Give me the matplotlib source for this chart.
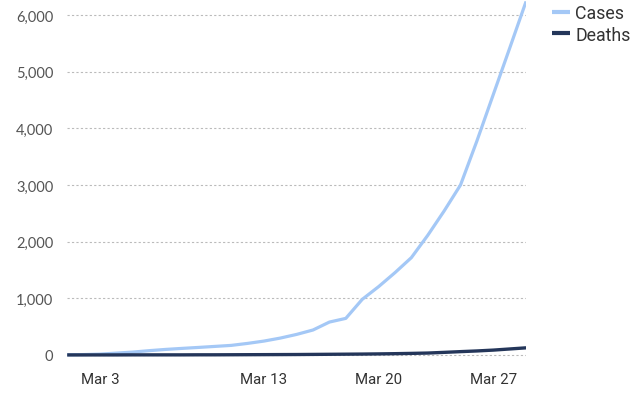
import matplotlib
matplotlib.use("Agg")
import matplotlib.pyplot as plt
import matplotlib.dates as mdates
import pandas as pd

dates = pd.date_range("2020-03-01", "2020-03-29", freq="D")
cases = [2, 6, 14, 32, 50, 75, 97, 115, 132, 150, 168, 203, 244, 297, 362, 440,
         580, 645, 980, 1205, 1452, 1717, 2111, 2541, 3000, 3777, 4597, 5415, 6240]
deaths = [0, 0, 0, 0, 1, 1, 1, 1, 2, 2, 3, 4, 5, 6, 7, 9,
          11, 13, 15, 18, 22, 27, 33, 45, 58, 70, 85, 105, 125]
tick_dates = ["2020-03-03", "2020-03-13", "2020-03-20", "2020-03-27"]
yticks = [0, 1000, 2000, 3000, 4000, 5000, 6000]

fig = plt.figure(figsize=(6.4, 4.1), dpi=100)
ax = fig.add_axes([0.105, 0.1250, 0.717, 0.8705])

ax.plot(dates, cases, color="#a4c8f6", lw=2.3, label="Cases", solid_capstyle="butt", zorder=3)
ax.plot(dates, deaths, color="#24365a", lw=2.4, label="Deaths", solid_capstyle="butt", zorder=4)

ax.set_xlim(dates[0], dates[-1])
ax.set_ylim(-50, 6250)
ax.set_yticks(yticks)
ax.set_yticklabels([f"{v:,}" for v in yticks], family="Lato", fontsize=10.5, color="#555555")
ax.set_xticks(pd.to_datetime(tick_dates))
ax.xaxis.set_major_formatter(mdates.DateFormatter("%b %-d"))
for lbl in ax.get_xticklabels():
    lbl.set_family("Roboto")
    lbl.set_fontsize(10.8)
    lbl.set_color("#333333")
ax.tick_params(axis="y", length=0, pad=10)
ax.tick_params(axis="x", length=0, pad=10)
for s in ax.spines.values():
    s.set_visible(False)
ax.grid(axis="y", color="#bbbbbb", linestyle=(0, (2, 2)), lw=0.8)
ax.set_axisbelow(True)

leg = fig.legend(loc="upper left", bbox_to_anchor=(552 / 640, 1 - 5 / 410), frameon=False,
                 prop={"family": "Roboto", "size": 12.8}, handlelength=1.0,
                 handletextpad=0.3, labelspacing=0.2, borderaxespad=0, borderpad=0)
for t in leg.get_texts():
    t.set_color("#333333")
for h in leg.get_lines():
    h.set_linewidth(3)

fig.savefig("out.png", dpi=100)
